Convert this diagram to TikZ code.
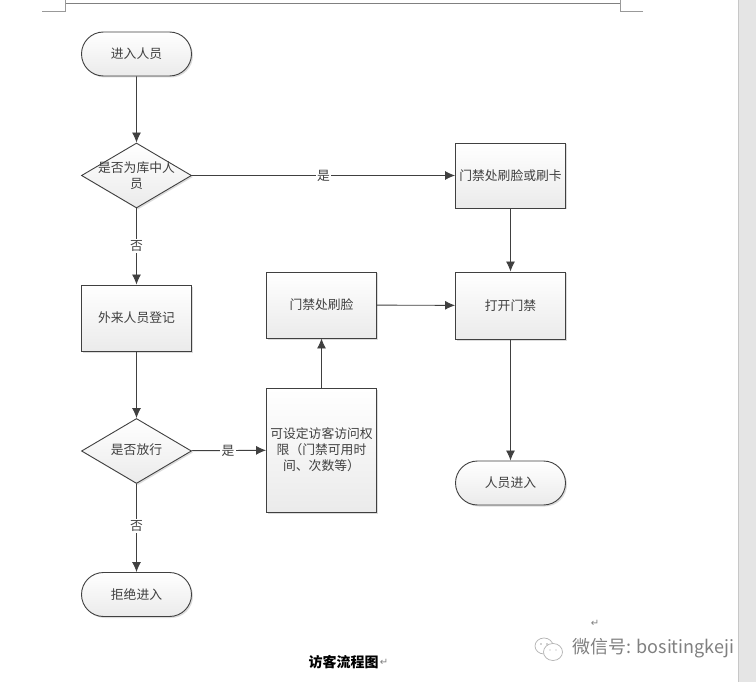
\documentclass[tikz,border=0pt]{standalone}
\usepackage{fontspec}
\setmainfont{Noto Sans CJK SC}
\newfontfamily\symfont{DejaVu Sans}
\usetikzlibrary{shapes.geometric,shapes.misc,arrows.meta,shadows}
\definecolor{ink}{HTML}{404040}
\tikzset{
  basebox/.style={draw=ink,line width=0.9pt,top color=white,bottom color=black!8,
    drop shadow={shadow xshift=1.5pt,shadow yshift=-1.5pt,fill=black!30,opacity=.45},
    inner sep=0pt,text=ink,font=\fontsize{12.8}{16}\selectfont,align=center},
  procbox/.style={basebox,rectangle,minimum width=110pt},
  termbox/.style={basebox,rounded rectangle,minimum width=110pt,minimum height=44pt},
  decbox/.style={basebox,diamond,aspect=1.69,minimum width=110pt,minimum height=65pt},
  dectext/.style={text=ink,font=\fontsize{12.8}{16}\selectfont,align=center,inner sep=0pt},
  flow/.style={draw=ink,line width=0.9pt,-{Latex[length=10pt,width=9pt]}},
  edgelabel/.style={fill=white,text=ink,font=\fontsize{12.8}{14}\selectfont,inner sep=1.5pt},
  pageline/.style={draw=black!50,line width=0.9pt},
  cropline/.style={draw=black!40,line width=0.9pt},
  retmark/.style={text=black!50,font=\symfont\fontsize{10}{10}\selectfont,inner sep=0pt},
  bubble/.style={draw=black!30,fill=white,line width=0.7pt}
}
\begin{document}
\begin{tikzpicture}[x=1pt,y=-1pt]
\useasboundingbox (0,0) rectangle (756,682);
\fill[white] (0,0) rectangle (756,682);
% window strip
\fill[black!10] (738,0) rectangle (756,682);
\draw[black!22,line width=0.8pt] (738,0) -- (738,682);
% page header and crop marks
\draw[pageline] (65,3.5) -- (621,3.5);
\draw[cropline] (42,11.5) -- (65.5,11.5) -- (65.5,0);
\draw[cropline] (643,11.5) -- (620.5,11.5) -- (620.5,0);
% nodes
\node[termbox] (start) at (136.5,54) {进入人员};
\node[decbox] (d1) at (136.5,175.5) {};
\node[dectext] (d1t) at (136.5,175.5) {是否为库中人\\员};
\node[procbox,minimum height=66pt] (reg) at (136.5,318) {外来人员登记};
\node[decbox] (d2) at (136.5,451) {};
\node[dectext] (d2t) at (136.5,450) {是否放行};
\node[termbox] (deny) at (136.5,594.5) {拒绝进入};
\node[procbox,minimum height=124pt] (perm) at (321.5,450) {可设定访客访问权\\限（门禁可用时\\间、次数等）};
\node[procbox,minimum height=66pt] (face) at (321.5,305) {门禁处刷脸};
\node[procbox,minimum height=65pt] (card) at (510.5,175.5) {门禁处刷脸或刷卡};
\node[procbox,minimum height=67pt] (open) at (510.5,305.5) {打开门禁};
\node[termbox] (enter) at (510.5,483) {人员进入};
% connectors
\draw[flow] (start) -- (d1);
\draw[flow] (d1) -- node[edgelabel,pos=.49] (no1) {否} (reg);
\draw[flow] (d1) -- node[edgelabel,pos=.5] (yes1) {是} (card);
\draw[flow] (reg) -- (d2);
\draw[flow] (d2) -- node[edgelabel,pos=.48] (no2) {否} (deny);
\draw[flow] (d2) -- node[edgelabel,pos=.49] (yes2) {是} (perm);
\draw[flow] (perm) -- (face);
\draw[flow] (face) -- (open);
\draw[flow] (card) -- (open);
\draw[flow] (open) -- (enter);
% caption
\node[font=\bfseries\fontsize{14}{14}\selectfont,text=black,inner sep=0pt] (cap) at (343.5,662.5) {访客流程图};
\node[retmark] (ret1) at (384,662.5) {↵};
\node[retmark] (ret2) at (595,623) {↵};
% watermark
\draw[bubble] (544,646) ellipse (9pt and 8pt);
\draw[bubble] (553,652) ellipse (9.5pt and 8.5pt);
\fill[black!35] (541,644) circle (0.8pt) (547,644) circle (0.8pt) (550,650) circle (0.7pt) (556,650) circle (0.7pt);
\node[anchor=west,text=black!50,font=\fontsize{18}{18}\selectfont,inner sep=0pt] (wm) at (572,648) {微信号: bositingkeji};
\end{tikzpicture}
\end{document}
